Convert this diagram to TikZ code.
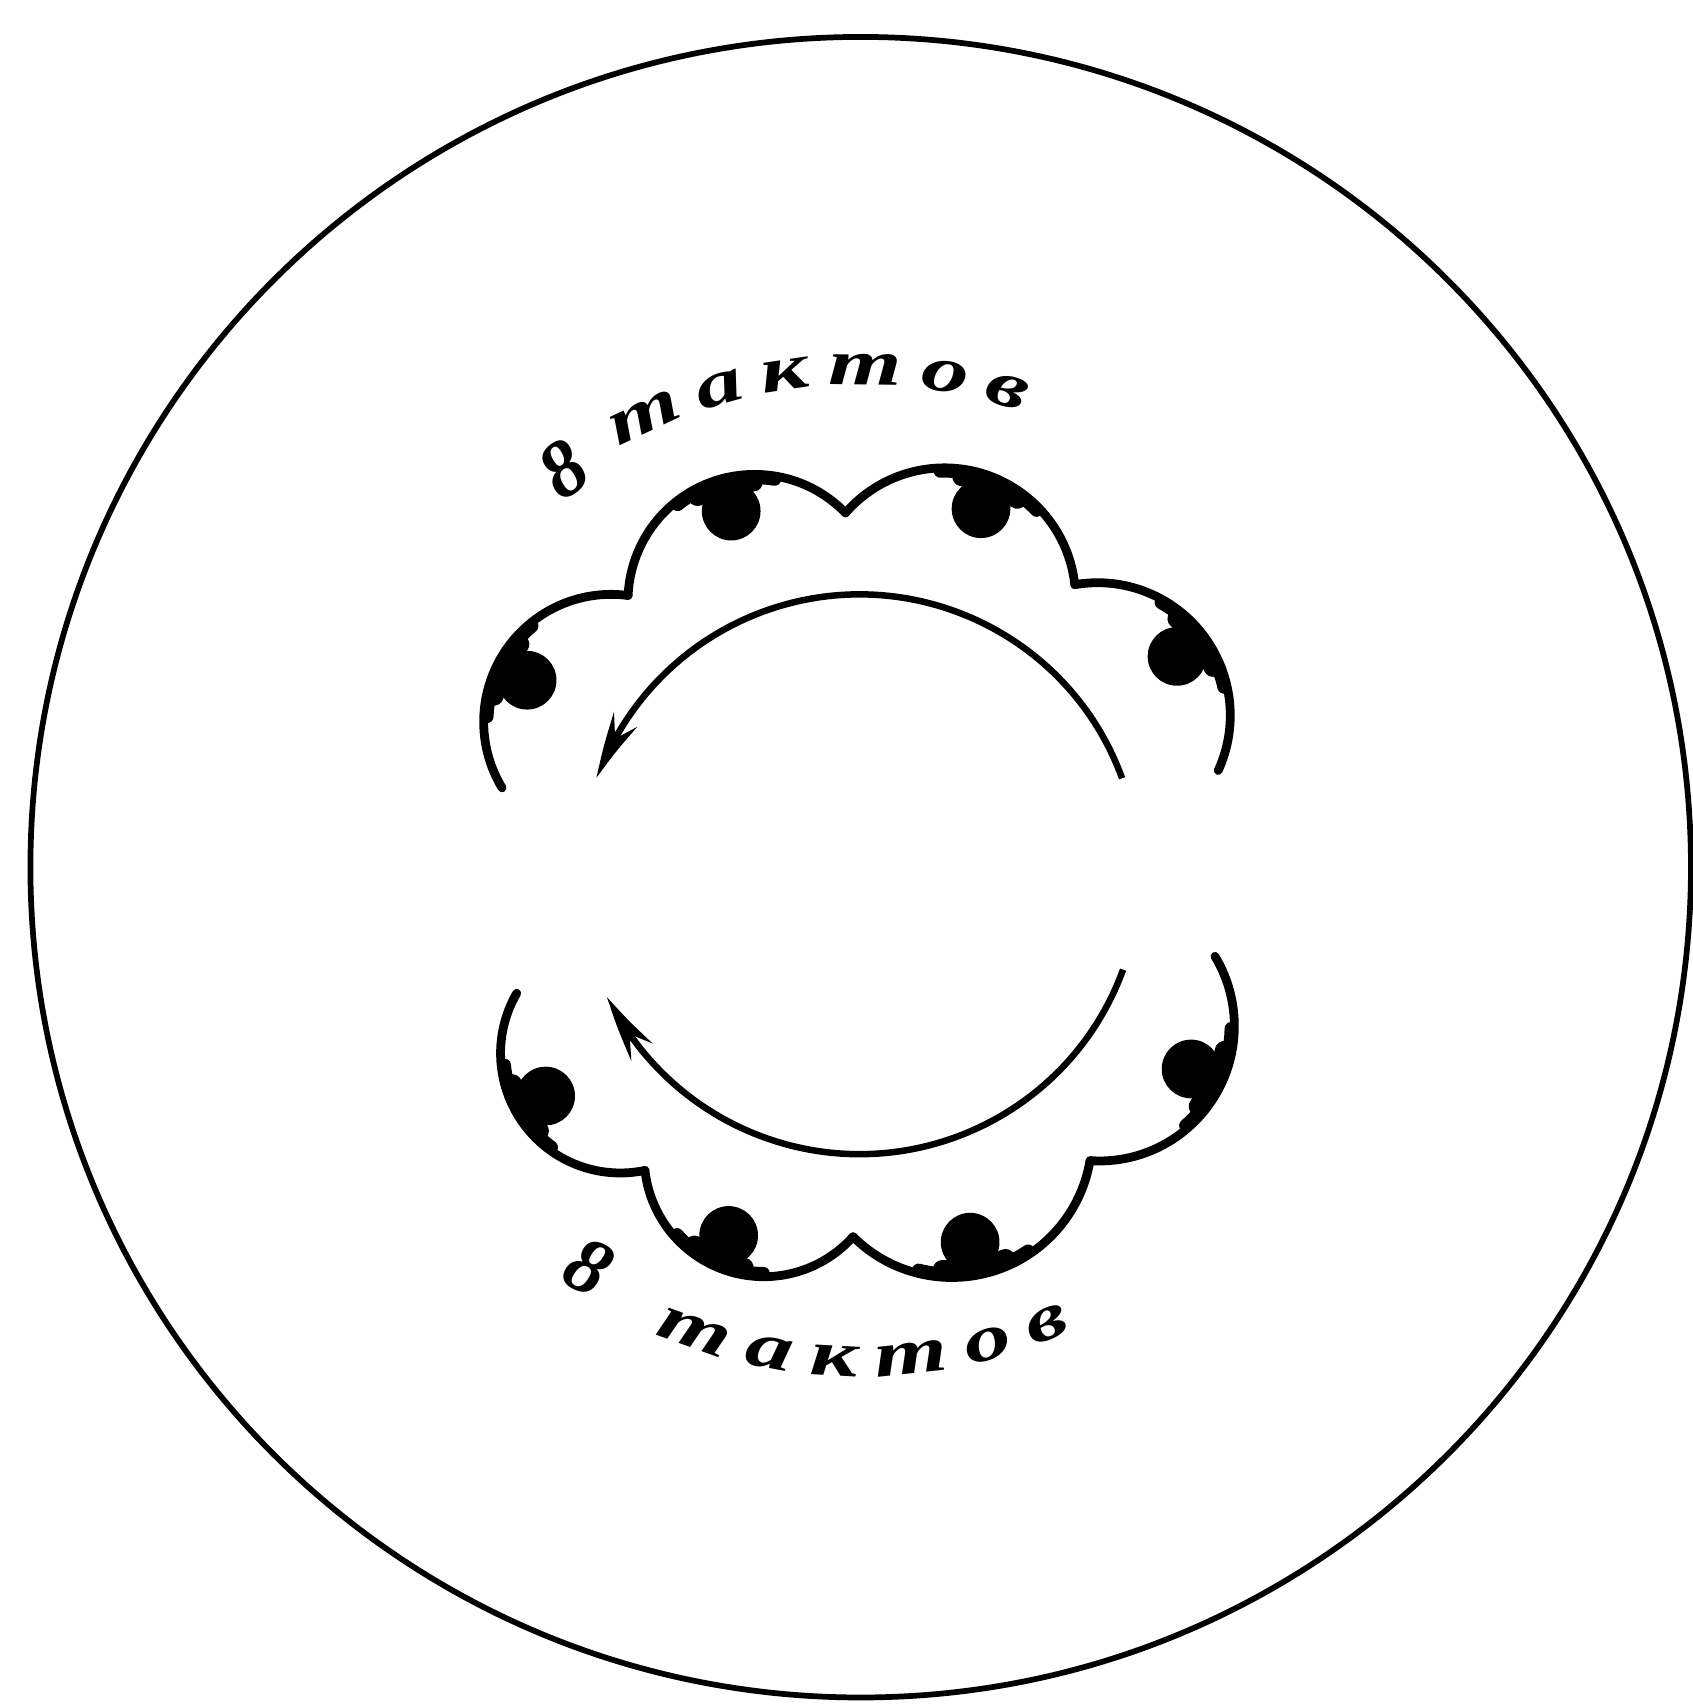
\documentclass[tikz,border=0pt]{standalone}
\usepackage{fontspec}
\setmainfont{Liberation Serif}
\newfontfamily\handfont{Liberation Serif}[FakeStretch=1.45]
\usetikzlibrary{arrows.meta,bending,decorations.text}
\newcommand{\tactfont}{\handfont\fontsize{17}{17}\selectfont\bfseries\itshape}

\begin{document}
\begin{tikzpicture}[
    rim/.style={line width=1.5pt},
    lobe/.style={line width=2.3pt, line cap=round, line join=round},
    lobemid/.style={line width=3.4pt, line cap=round},
    lobefat/.style={line width=5pt, line cap=round},
    ball/.style={fill=black},
    beat/.style={line width=1.7pt, -{Stealth[length=6mm,width=2.5mm,inset=2mm,bend]}},
    eight/.style={font=\fontsize{21}{21}\selectfont\bfseries\itshape, inner sep=0pt}]
  \useasboundingbox (-7.91,-7.64) rectangle (7.66,8.04);

  % outer circle
  \draw[rim] (0.01,0.06) circle (7.64);

  % upper wave
  \coordinate (t0) at (3.30,0.95);
  \coordinate (t1) at (1.98,2.66);
  \coordinate (t2) at (-0.13,3.32);
  \coordinate (t3) at (-2.13,2.56);
  % lower wave
  \coordinate (b0) at (-3.155,-1.10);
  \coordinate (b1) at (-1.975,-2.73);
  \coordinate (b2) at (-0.06,-3.34);
  \coordinate (b3) at (2.12,-2.64);

  % start, arc angles, lobe radius, ball direction, contact angle
  \foreach \s/\f/\t/\r/\p/\c in {t0/-24.56/99.89/1.2206/34.4/36.6,
      t1/6.29/138.97/1.2068/71.6/67.9,
      t2/44.07/177.54/1.1645/109.5/104.6,
      t3/82.35/211.17/1.1732/149.8/153.6,
      b0/149.88/281.92/1.1012/215.3/209.8,
      b1/186.40/318.27/1.1006/250.1/245.8,
      b2/225.14/350.46/1.2888/286.7/279.9,
      b3/266.01/391.08/1.2419/329.5/334.9} {
    \draw[lobe] (\s) arc[start angle=\f, end angle=\t, radius=\r];
    \draw[lobemid] (\s) ++(\f+180:\r) ++(\c-24:\r-0.03)
      arc[start angle=\c-24, end angle=\c+24, radius=\r-0.03];
    \draw[lobefat] (\s) ++(\f+180:\r) ++(\c-14:\r-0.07)
      arc[start angle=\c-14, end angle=\c+14, radius=\r-0.07];
    \fill[ball] (\p:3.54) circle (0.27);
  }

  % inner arrows
  \draw[beat] (20:2.57) arc[start angle=20, end angle=160, radius=2.57];
  \draw[beat] (-20:2.58) arc[start angle=-20, end angle=-154, radius=2.58];

  % labels
  \node[eight, rotate=36] (topeight) at (126.2:4.61) {8};
  \path[decorate, decoration={text along path, text align=fit to path,
      text={|\tactfont|тактов}}]
    (119.5:4.50) arc[start angle=119.5, end angle=70.5, radius=4.50];
  \node[eight, rotate=-28] (boteight) at (235.4:4.39) {8};
  \path[decorate, decoration={text along path, text align=fit to path,
      text={|\tactfont|тактов}}]
    (246:4.63) arc[start angle=246, end angle=295, radius=4.63];
\end{tikzpicture}
\end{document}
